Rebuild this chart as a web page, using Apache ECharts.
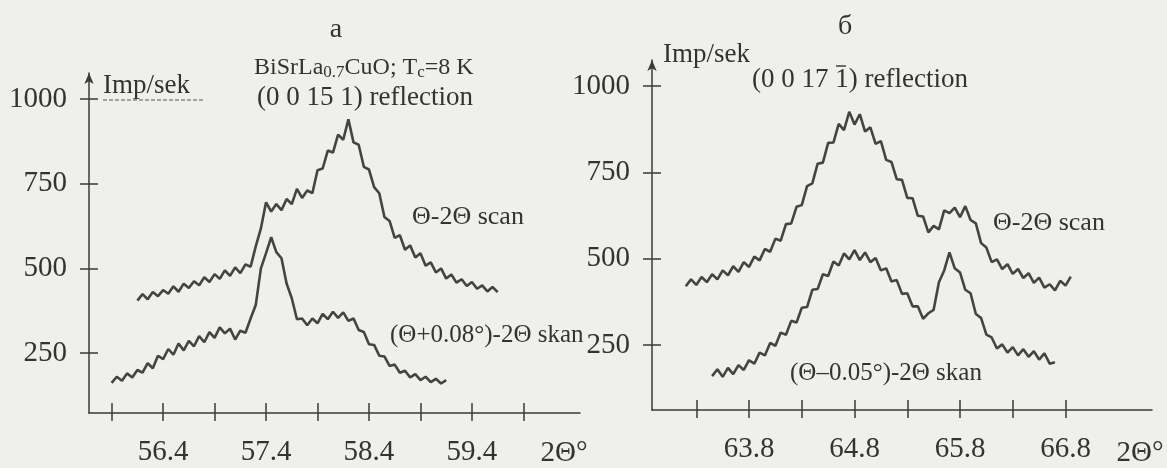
<!DOCTYPE html>
<html>
<head>
<meta charset="utf-8">
<script src="https://cdn.jsdelivr.net/npm/echarts@6/dist/echarts.min.js"></script>
<style>
  html, body { margin: 0; padding: 0; background: #efefec; }
  #chart { width: 1167px; height: 468px; }
</style>
</head>
<body>
<div id="chart"></div>
<script>
// panel a: (0 0 15 1) reflection
const leftUpperX = [56.15, 56.20, 56.25, 56.30, 56.35, 56.40, 56.45, 56.50, 56.55, 56.60,
  56.65, 56.70, 56.75, 56.80, 56.85, 56.90, 56.95, 57.00, 57.05, 57.10,
  57.15, 57.20, 57.25, 57.30, 57.35, 57.40, 57.45, 57.50, 57.55, 57.60,
  57.65, 57.70, 57.75, 57.80, 57.85, 57.90, 57.95, 58.00, 58.05, 58.10,
  58.15, 58.20, 58.25, 58.30, 58.35, 58.40, 58.45, 58.50, 58.55, 58.60,
  58.65, 58.70, 58.75, 58.80, 58.85, 58.90, 58.95, 59.00, 59.05, 59.10,
  59.15, 59.20, 59.25, 59.30, 59.35, 59.40, 59.45, 59.50, 59.55, 59.60, 59.65]
const leftUpperY = [405, 424, 409, 430, 418, 436, 425, 447, 431, 455,
  442, 462, 450, 474, 460, 483, 469, 494, 478, 503,
  486, 512, 505, 565, 618, 695, 668, 690, 672, 705,
  690, 735, 708, 730, 722, 790, 795, 848, 842, 895,
  880, 940, 872, 865, 800, 792, 740, 722, 652, 640,
  590, 598, 555, 568, 532, 545, 508, 518, 488, 500,
  470, 482, 458, 468, 448, 460, 440, 450, 432, 445, 430]

const leftLowerX = [55.90, 55.95, 56.00, 56.05, 56.10, 56.15, 56.20, 56.25, 56.30, 56.35,
  56.40, 56.45, 56.50, 56.55, 56.60, 56.65, 56.70, 56.75, 56.80, 56.85,
  56.90, 56.95, 57.00, 57.05, 57.10, 57.15, 57.20, 57.25, 57.30, 57.35,
  57.40, 57.45, 57.50, 57.55, 57.60, 57.65, 57.70, 57.75, 57.80, 57.85,
  57.90, 57.95, 58.00, 58.05, 58.10, 58.15, 58.20, 58.25, 58.30, 58.35,
  58.40, 58.45, 58.50, 58.55, 58.60, 58.65, 58.70, 58.75, 58.80, 58.85,
  58.90, 58.95, 59.00, 59.05, 59.10, 59.15]
const leftLowerY = [162, 180, 168, 190, 178, 200, 192, 220, 205, 242,
  232, 262, 245, 278, 258, 286, 270, 300, 282, 312,
  295, 326, 308, 322, 290, 316, 310, 352, 392, 500,
  545, 592, 548, 530, 455, 412, 350, 352, 332, 352,
  338, 366, 350, 372, 354, 370, 345, 352, 318, 312,
  276, 274, 242, 240, 212, 216, 192, 198, 178, 188,
  170, 180, 164, 174, 160, 170]

// panel б: (0 0 17 -1) reflection
const rightUpperX = [63.20, 63.25, 63.30, 63.35, 63.40, 63.45, 63.50, 63.55, 63.60, 63.65,
  63.70, 63.75, 63.80, 63.85, 63.90, 63.95, 64.00, 64.05, 64.10, 64.15,
  64.20, 64.25, 64.30, 64.35, 64.40, 64.45, 64.50, 64.55, 64.60, 64.65,
  64.70, 64.75, 64.80, 64.85, 64.90, 64.95, 65.00, 65.05, 65.10, 65.15,
  65.20, 65.25, 65.30, 65.35, 65.40, 65.45, 65.50, 65.55, 65.60, 65.65,
  65.70, 65.75, 65.80, 65.85, 65.90, 65.95, 66.00, 66.05, 66.10, 66.15,
  66.20, 66.25, 66.30, 66.35, 66.40, 66.45, 66.50, 66.55, 66.60, 66.65,
  66.70, 66.75, 66.80, 66.85]
const rightUpperY = [420, 440, 424, 447, 432, 455, 440, 466, 452, 478,
  462, 490, 476, 506, 495, 528, 520, 558, 552, 600,
  602, 650, 655, 710, 718, 775, 778, 835, 836, 890,
  872, 925, 888, 918, 868, 880, 832, 840, 786, 780,
  730, 728, 676, 675, 624, 622, 576, 595, 585, 640,
  632, 648, 620, 652, 612, 602, 545, 532, 490, 498,
  470, 484, 456, 470, 444, 458, 430, 445, 416, 426,
  408, 436, 422, 448]

const rightLowerX = [63.45, 63.50, 63.55, 63.60, 63.65, 63.70, 63.75, 63.80, 63.85, 63.90,
  63.95, 64.00, 64.05, 64.10, 64.15, 64.20, 64.25, 64.30, 64.35, 64.40,
  64.45, 64.50, 64.55, 64.60, 64.65, 64.70, 64.75, 64.80, 64.85, 64.90,
  64.95, 65.00, 65.05, 65.10, 65.15, 65.20, 65.25, 65.30, 65.35, 65.40,
  65.45, 65.50, 65.55, 65.60, 65.65, 65.70, 65.75, 65.80, 65.85, 65.90,
  65.95, 66.00, 66.05, 66.10, 66.15, 66.20, 66.25, 66.30, 66.35, 66.40,
  66.45, 66.50, 66.55, 66.60, 66.65, 66.70]
const rightLowerY = [160, 180, 158, 184, 166, 192, 178, 206, 196, 228,
  220, 256, 248, 286, 280, 320, 315, 358, 360, 410,
  412, 455, 450, 492, 480, 515, 498, 525, 496, 518,
  490, 502, 466, 472, 434, 438, 398, 400, 362, 362,
  326, 342, 352, 432, 466, 518, 472, 460, 410, 400,
  340, 328, 280, 272, 240, 252, 228, 244, 220, 238,
  216, 232, 208, 226, 196, 200]

// ticks
const leftTicks = [55.9, 56.4, 56.9, 57.4, 57.9, 58.4, 58.9, 59.4, 59.9]
const leftLabels = [56.4, 57.4, 58.4, 59.4]
const rightTicks = [63.3, 63.8, 64.3, 64.8, 65.3, 65.8, 66.3, 66.8]
const rightLabels = [63.8, 64.8, 65.8, 66.8]
const yTicks = [250, 500, 750, 1000]

const ink = '#3a3a3a'
const serif = '"Liberation Serif", "DejaVu Serif", serif'

function pairs(xs, ys) {
  return xs.map((x, i) => [x, ys[i]])
}

function xAxisOf(grid, min, max, ticks, labels, inside) {
  return {
    type: 'value',
    gridIndex: grid,
    position: 'bottom',
    min: min,
    max: max,
    splitLine: { show: false },
    axisLine: { show: !inside, onZero: false, lineStyle: { color: ink, width: 1.5 } },
    axisTick: {
      show: true,
      inside: inside,
      length: inside ? 10 : 8,
      customValues: ticks,
      lineStyle: { color: ink, width: 1.5 }
    },
    axisLabel: {
      show: !inside,
      customValues: labels,
      margin: 25,
      color: '#333',
      fontSize: 29,
      fontFamily: serif,
      formatter: v => v.toFixed(1)
    }
  }
}

function yAxisOf(grid, min, max, inside) {
  return {
    type: 'value',
    gridIndex: grid,
    position: 'left',
    min: min,
    max: max,
    splitLine: { show: false },
    axisLine: {
      show: !inside,
      onZero: false,
      symbol: ['none', 'arrow'],
      symbolSize: [7, 11],
      lineStyle: { color: ink, width: 1.5 }
    },
    axisTick: {
      show: true,
      inside: inside,
      length: 9,
      customValues: yTicks,
      lineStyle: { color: ink, width: 1.5 }
    },
    axisLabel: {
      show: !inside,
      customValues: yTicks,
      margin: 22,
      color: '#333',
      fontSize: 29,
      fontFamily: serif,
      formatter: v => String(v)
    }
  }
}

function curve(xIdx, yIdx, xs, ys) {
  return {
    type: 'line',
    xAxisIndex: xIdx,
    yAxisIndex: yIdx,
    showSymbol: false,
    symbol: 'none',
    lineStyle: { color: '#444', width: 2.6 },
    data: pairs(xs, ys)
  }
}

function label(text, x, y, size, align) {
  return {
    type: 'text',
    style: {
      text: text,
      x: x,
      y: y,
      fill: '#333',
      font: size + 'px ' + serif,
      textAlign: align || 'left',
      textVerticalAlign: 'middle'
    }
  }
}

const chart = echarts.init(document.getElementById('chart'))

const option = {
  backgroundColor: '#efefec',
  animation: false,
  grid: [
    { left: 89, top: 73, width: 491, height: 340 },
    { left: 652, top: 60, width: 500, height: 350 }
  ],
  xAxis: [
    xAxisOf(0, 55.68, 60.45, leftTicks, leftLabels, false),
    xAxisOf(0, 55.68, 60.45, leftTicks, leftLabels, true),
    xAxisOf(1, 62.88, 67.62, rightTicks, rightLabels, false),
    xAxisOf(1, 62.88, 67.62, rightTicks, rightLabels, true)
  ],
  yAxis: [
    yAxisOf(0, 73, 1077, false),
    yAxisOf(0, 73, 1077, true),
    yAxisOf(1, 62, 1075, false),
    yAxisOf(1, 62, 1075, true)
  ],
  series: [
    curve(0, 0, leftUpperX, leftUpperY),
    curve(0, 0, leftLowerX, leftLowerY),
    curve(2, 2, rightUpperX, rightUpperY),
    curve(2, 2, rightLowerX, rightLowerY)
  ],
  graphic: [
    label('a', 336, 30, 28, 'center'),
    label('б', 845, 27, 28, 'center'),
    label('Imp/sek', 103, 86, 27),
    {
      type: 'line',
      shape: { x1: 103, y1: 100, x2: 203, y2: 100 },
      style: { stroke: '#555', lineWidth: 1, lineDash: [4, 2] }
    },
    {
      type: 'text',
      style: {
        text: '{n|BiSrLa}{s|0.7}{n|CuO; T}{s|c}{n|=8 K}',
        x: 254,
        y: 68,
        fill: '#333',
        textVerticalAlign: 'middle',
        rich: {
          n: { fontFamily: serif, fontSize: 24, fill: '#333' },
          s: { fontFamily: serif, fontSize: 17, fill: '#333', padding: [10, 0, 0, 0] }
        }
      }
    },
    label('(0 0 15 1) reflection', 257, 98, 27),
    label('Θ-2Θ scan', 412, 217, 26),
    label('(Θ+0.08°)-2Θ skan', 390, 335, 25),
    label('2Θ°', 564, 453, 29, 'center'),
    label('Imp/sek', 663, 55, 27),
    label('(0 0 17 1) reflection', 752, 80, 27),
    {
      // bar over the 1 in (0 0 17 1)
      type: 'line',
      shape: { x1: 836, y1: 66, x2: 846, y2: 66 },
      style: { stroke: '#333', lineWidth: 1.4 }
    },
    label('Θ-2Θ scan', 993, 223, 26),
    label('(Θ–0.05°)-2Θ skan', 790, 373, 25),
    label('2Θ°', 1140, 453, 29, 'center')
  ]
}

chart.setOption(option)
</script>
</body>
</html>
